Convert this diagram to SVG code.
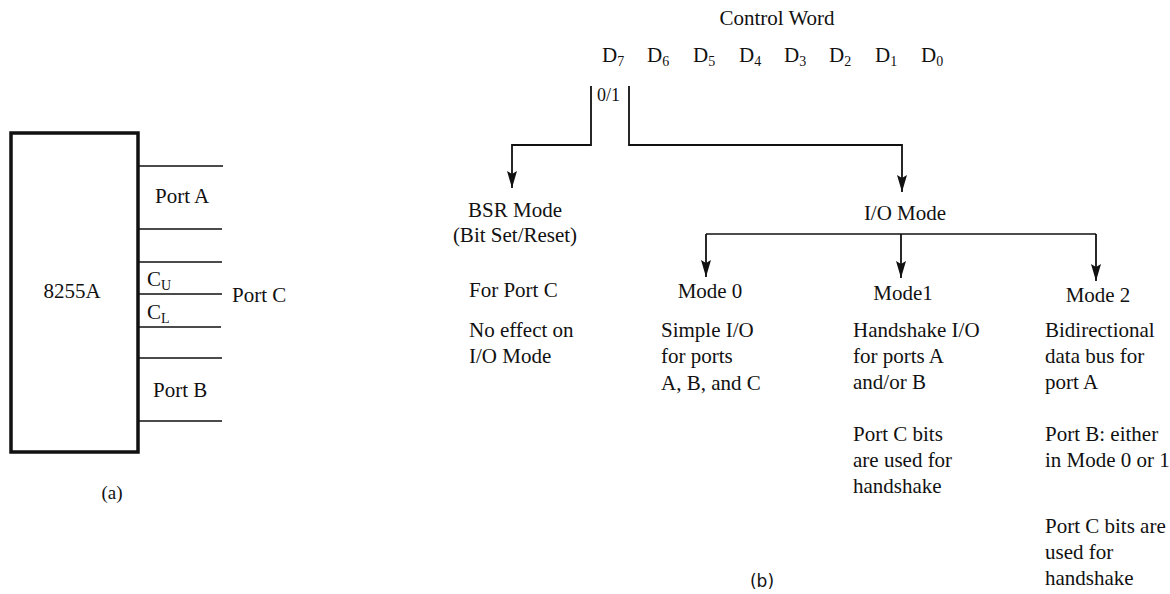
<svg xmlns="http://www.w3.org/2000/svg" width="1170" height="594" viewBox="0 0 1170 594">
<defs>
<marker id="ah" markerUnits="userSpaceOnUse" markerWidth="18" markerHeight="10" viewBox="0 0 18 10" refX="17" refY="5" orient="auto">
<path d="M0,0 L17,5 L0,10 L3,5 Z" fill="#111"/>
</marker>
</defs>
<style>
text{font-family:"Liberation Serif","Times New Roman",serif;font-size:21px;fill:#111}
.sub{font-size:14px}
.c{text-anchor:middle}
.ln{stroke:#111;stroke-width:1.6;fill:none}
.ar{stroke:#111;stroke-width:1.8;fill:none;marker-end:url(#ah)}
</style>
<rect width="1170" height="594" fill="#fff"/>

<g id="chip">
<rect x="11" y="133" width="127" height="319" fill="none" stroke="#111" stroke-width="3.5"/>
<text x="72" y="298" class="c">8255A</text>
</g>
<g id="ports">
<path class="ln" d="M139,166H223M139,229H222M139,262H222M139,294H222M139,327H221M139,358H222M139,421H222"/>
<text x="155" y="203">Port A</text>
<text x="147" y="286">C<tspan class="sub" dy="4">U</tspan></text>
<text x="147" y="319">C<tspan class="sub" dy="4">L</tspan></text>
<text x="232" y="302">Port C</text>
<text x="153" y="397">Port B</text>
<text x="112" y="499" class="c" style="font-size:19px">(a)</text>
</g>

<g id="control-word">
<text x="777" y="25" class="c">Control Word</text>
<text y="62">
<tspan x="602">D</tspan><tspan class="sub" dy="4">7</tspan>
<tspan x="647" dy="-4">D</tspan><tspan class="sub" dy="4">6</tspan>
<tspan x="693" dy="-4">D</tspan><tspan class="sub" dy="4">5</tspan>
<tspan x="739" dy="-4">D</tspan><tspan class="sub" dy="4">4</tspan>
<tspan x="784" dy="-4">D</tspan><tspan class="sub" dy="4">3</tspan>
<tspan x="829" dy="-4">D</tspan><tspan class="sub" dy="4">2</tspan>
<tspan x="875" dy="-4">D</tspan><tspan class="sub" dy="4">1</tspan>
<tspan x="921" dy="-4">D</tspan><tspan class="sub" dy="4">0</tspan>
</text>
<text x="597" y="101" style="font-size:18px">0/1</text>
</g>

<g id="connectors">
<path class="ar" d="M591,86V145H512V188"/>
<path class="ar" d="M629,86V145H902V192"/>
<path class="ln" d="M706,234H1096"/>
<path class="ar" d="M706,234V277"/>
<path class="ar" d="M901,234V278"/>
<path class="ar" d="M1096,234V281"/>
</g>

<g id="bsr-mode">
<text x="515" y="217" class="c">BSR Mode</text>
<text x="515" y="242" class="c">(Bit Set/Reset)</text>
<text x="469" y="297">For Port C</text>
<text x="469" y="337">No effect on</text>
<text x="469" y="363">I/O Mode</text>
</g>

<g id="io-mode">
<text x="905" y="220" class="c">I/O Mode</text>
</g>

<g id="mode0">
<text x="710" y="298" class="c">Mode 0</text>
<text x="661" y="337">Simple I/O</text>
<text x="661" y="363">for ports</text>
<text x="661" y="390">A, B, and C</text>
</g>

<g id="mode1">
<text x="903" y="300" class="c">Mode1</text>
<text x="853" y="337">Handshake I/O</text>
<text x="853" y="363">for ports A</text>
<text x="853" y="389">and/or B</text>
<text x="853" y="441">Port C bits</text>
<text x="853" y="467">are used for</text>
<text x="853" y="493">handshake</text>
</g>

<g id="mode2">
<text x="1098" y="302" class="c">Mode 2</text>
<text x="1045" y="337">Bidirectional</text>
<text x="1045" y="363">data bus for</text>
<text x="1045" y="389">port A</text>
<text x="1045" y="441">Port B: either</text>
<text x="1045" y="467">in Mode 0 or 1</text>
<text x="1045" y="533">Port C bits are</text>
<text x="1045" y="559">used for</text>
<text x="1045" y="585">handshake</text>
</g>

<text x="762" y="587" class="c" style="font-family:'DejaVu Sans',sans-serif;font-size:17px">(b)</text>
</svg>
